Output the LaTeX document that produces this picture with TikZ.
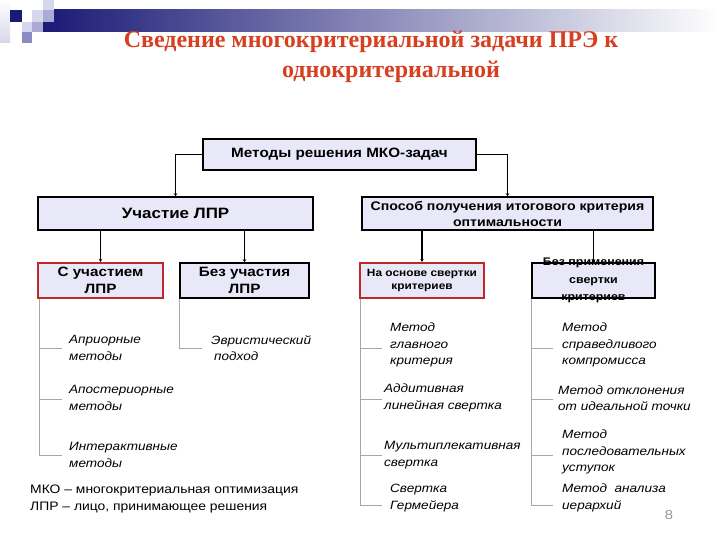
\documentclass[tikz,border=0pt]{standalone}
\usepackage{fontspec}
\setmainfont{Liberation Serif}
\setsansfont{Liberation Sans}[FakeStretch=1.13]
\newfontfamily\titlefont{Liberation Serif}
\usetikzlibrary{arrows.meta}
\definecolor{boxfill}{RGB}{232,232,248}
\definecolor{boxred}{RGB}{190,40,40}
\definecolor{treegray}{RGB}{160,168,178}
\definecolor{titlered}{RGB}{214,64,32}
\definecolor{navy}{RGB}{26,26,118}
\definecolor{lav1}{RGB}{214,214,236}
\definecolor{lav2}{RGB}{170,170,212}
\definecolor{lav3}{RGB}{140,140,196}
\definecolor{numgray}{RGB}{150,150,150}
\begin{document}
\begin{tikzpicture}[x=1pt,y=-1pt,
  box/.style={draw=black,line width=1.5pt,fill=boxfill,inner sep=0pt,align=center},
  redbox/.style={box,draw=boxred,line width=2pt},
  boxtext/.style={inner sep=0pt,align=center},
  item/.style={anchor=west,inner sep=0pt,align=left,font=\sffamily\itshape\fontsize{12}{16.5}\selectfont},
  conn/.style={line width=1.5pt,-{Stealth[length=3pt,width=3.5pt]}},
  tree/.style={draw=treegray,line width=0.9pt}]
\useasboundingbox (0,0) rectangle (720,540);
\fill[white] (0,0) rectangle (720,540);
% decoration
\shade[left color=navy,right color=white] (43,10) rectangle (720,32);
\shade[top color=white,bottom color=lav1] (0,0) rectangle (10,43);
\fill[navy] (10,10) rectangle (22,22);
\fill[lav1] (32,10) rectangle (43,22);
\fill[lav1] (43,0) rectangle (54,10);
\fill[lav2] (43,10) rectangle (54,22);
\fill[lav1] (22,22) rectangle (32,32);
\fill[lav2] (32,22) rectangle (43,32);
\fill[lav3] (22,32) rectangle (32,43);
% title
\node[inner sep=0pt,text=titlered,font=\titlefont\bfseries\fontsize{24}{30}\selectfont] (t1) at (371,42) {Сведение многокритериальной задачи ПРЭ к};
\node[inner sep=0pt,text=titlered,font=\titlefont\bfseries\fontsize{24}{30}\selectfont] (t2) at (391,72) {однокритериальной};
% boxes
\node[box,minimum width=273,minimum height=31,font=\sffamily\bfseries\fontsize{13.5}{16}\selectfont] (top) at (339.5,154.5) {Методы решения МКО-задач};
\node[box,minimum width=275,minimum height=33,font=\sffamily\bfseries\fontsize{15}{17}\selectfont] (uch) at (175.5,213.5) {Участие ЛПР};
\node[box,minimum width=291,minimum height=33,font=\sffamily\bfseries\fontsize{12.5}{16}\selectfont] (spos) at (507.5,213.5) {Способ получения итогового критерия\\оптимальности};
\node[redbox,minimum width=125,minimum height=35,font=\sffamily\bfseries\fontsize{13.5}{17}\selectfont] (such) at (100.5,280.5) {С участием\\ЛПР};
\node[box,minimum width=129,minimum height=35,font=\sffamily\bfseries\fontsize{13.5}{17}\selectfont] (bez) at (244.5,280.5) {Без участия\\ЛПР};
\node[redbox,minimum width=124,minimum height=35,font=\sffamily\bfseries\fontsize{10.5}{13}\selectfont] (osn) at (422,280.5) {На основе свертки\\критериев};
\node[box,minimum width=123,minimum height=35] (bezpr) at (593.5,280.5) {};
\node[boxtext,font=\sffamily\bfseries\fontsize{11}{17.5}\selectfont] (bezprt) at (bezpr.center) {Без применения\\свертки\\критериев};
% connectors
\draw[conn] (top.west) -| (uch.north);
\draw[conn] (top.east) -| (spos.north);
\draw[conn] (uch.south -| such.north) -- (such.north);
\draw[conn] (uch.south -| bez.north) -- (bez.north);
\draw[conn] (spos.south -| osn.north) -- (osn.north);
\draw[conn] (spos.south -| bezpr.north) -- (bezpr.north);
% items
\node[item] (a1) at (69,348) {Априорные\\методы};
\node[item] (a2) at (69,398) {Апостериорные\\методы};
\node[item] (a3) at (69,455) {Интерактивные\\методы};
\node[item] (b1) at (211,348) {Эвристический\\\hspace{3pt}подход};
\node[item] (c1) at (390,345) {Метод\\главного\\критерия};
\node[item] (c2) at (384,398) {Аддитивная\\линейная свертка};
\node[item] (c3) at (384,455) {Мультиплекативная\\свертка};
\node[item] (c4) at (390,498) {Свертка\\Гермейера};
\node[item] (d1) at (562,345) {Метод\\справедливого\\компромисса};
\node[item] (d2) at (558,398) {Метод отклонения\\от идеальной точки};
\node[item] (d3) at (562,452) {Метод\\последовательных\\уступок};
\node[item] (d4) at (562,498) {Метод\ \ анализа\\иерархий};
% trees
\draw[tree] ([xshift=2pt]such.south west) |- ([xshift=-7pt]a1.west);
\draw[tree] ([xshift=2pt]such.south west) |- ([xshift=-7pt,yshift=-1pt]a2.west);
\draw[tree] ([xshift=2pt]such.south west) |- ([xshift=-7pt]a3.west);
\draw[tree] (bez.south west) |- ([xshift=-9pt]b1.west);
\draw[tree] ([xshift=1pt]osn.south west) |- ([xshift=-8pt,yshift=-3pt]c1.west);
\draw[tree] ([xshift=1pt]osn.south west) |- ([xshift=-2pt,yshift=-1pt]c2.west);
\draw[tree] ([xshift=1pt]osn.south west) |- ([xshift=-2pt]c3.west);
\draw[tree] ([xshift=1pt]osn.south west) |- ([xshift=-8pt,yshift=-7pt]c4.west);
\draw[tree] (bezpr.south west) |- ([xshift=-9pt,yshift=-3pt]d1.west);
\draw[tree] (bezpr.south west) |- ([xshift=-5pt,yshift=-1pt]d2.west);
\draw[tree] (bezpr.south west) |- ([xshift=-9pt,yshift=-3pt]d3.west);
\draw[tree] (bezpr.south west) |- ([xshift=-9pt,yshift=-7pt]d4.west);
% footnote
\node[anchor=west,inner sep=0pt,align=left,font=\sffamily\fontsize{12.3}{16.5}\selectfont] (note) at (30,499) {МКО – многокритериальная оптимизация\\ЛПР – лицо, принимающее решения};
\node[inner sep=0pt,text=numgray,font=\sffamily\fontsize{13}{15}\selectfont] (num) at (669,515) {8};
\end{tikzpicture}
\end{document}
